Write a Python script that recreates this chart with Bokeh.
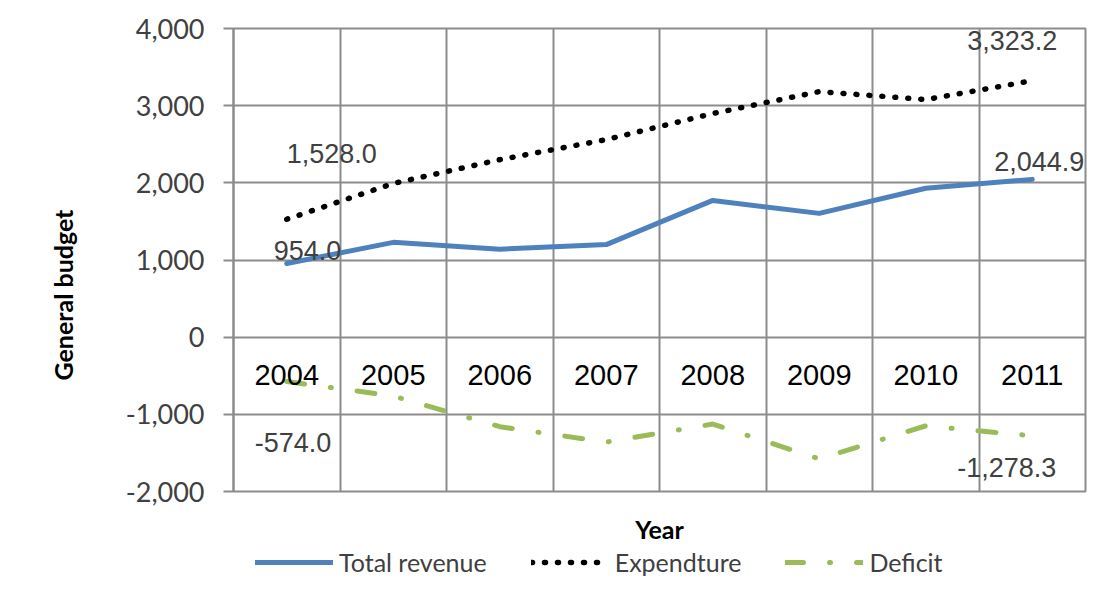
from bokeh.plotting import figure
from bokeh.layouts import column
from bokeh.models import (ColumnDataSource, FixedTicker, NumeralTickFormatter,
                          Legend, LegendItem, Range1d, Title)
from bokeh.core.properties import value
from bokeh.embed import file_html
from bokeh.resources import INLINE

# ---------------- data ----------------
years = ["2004", "2005", "2006", "2007", "2008", "2009", "2010", "2011"]
total_revenue = [954.0, 1229.0, 1140.0, 1200.0, 1772.0, 1604.0, 1930.0, 2044.9]
expenditure = [1528.0, 1992.0, 2300.0, 2560.0, 2898.0, 3182.0, 3079.0, 3323.2]
deficit = [-574.0, -763.0, -1160.0, -1360.0, -1126.0, -1578.0, -1149.0, -1278.3]
y_ticks = [-2000, -1000, 0, 1000, 2000, 3000, 4000]
series_names = ["Total revenue", "Expendture", "Deficit"]

# ---------------- styles ----------------
GRID = "#8c8c8c"
BLUE = "#4F81BD"
GREEN = "#9BBB59"
CAL = "Lato"
ARIAL = "Liberation Sans"
STYLES = [dict(line_color=BLUE, line_width=5, line_join="round", line_cap="round"),
          dict(line_color="black", line_width=5.5, line_dash="1 12",
               line_cap="round", line_join="round"),
          dict(line_color=GREEN, line_width=5, line_dash="18 26 1 26",
               line_cap="round", line_join="round")]

n = len(years)
xs = [i + 0.5 for i in range(n)]

p = figure(width=1100, height=546,
           x_range=Range1d(0, n), y_range=Range1d(y_ticks[0], y_ticks[-1]),
           output_backend="svg", toolbar_location=None,
           min_border_left=232, min_border_right=15, min_border_top=28,
           min_border_bottom=54, background_fill_color="white",
           border_fill_color="white")

p.outline_line_color = GRID
p.outline_line_width = 2

# grids
p.xgrid.ticker = FixedTicker(ticks=list(range(n + 1)))
p.xgrid.grid_line_color = GRID
p.xgrid.grid_line_width = 2
p.ygrid.ticker = FixedTicker(ticks=y_ticks)
p.ygrid.grid_line_color = GRID
p.ygrid.grid_line_width = 2

# y axis
ya = p.yaxis[0]
ya.ticker = FixedTicker(ticks=y_ticks)
ya.formatter = NumeralTickFormatter(format="0,0")
ya.major_label_text_font = CAL
ya.major_label_text_font_size = "27px"
ya.major_label_text_color = "#404040"
ya.axis_line_color = GRID
ya.axis_line_width = 2
ya.major_tick_line_color = GRID
ya.major_tick_line_width = 2
ya.major_tick_out = 10
ya.major_tick_in = 0
ya.minor_tick_line_color = None
ya.major_label_standoff = 19

# y axis title, placed a little below the frame centre as in the original
p.add_layout(Title(text="General budget", align="left", offset=111,
                   vertical_align="bottom", standoff=90,
                   text_font=CAL, text_font_style="bold",
                   text_font_size="25px", text_color="black"), "left")

# x axis (only title)
xa = p.xaxis[0]
xa.ticker = FixedTicker(ticks=[])
xa.axis_line_color = None
xa.major_tick_line_color = None
xa.minor_tick_line_color = None
xa.major_label_text_font_size = "0px"
xa.axis_label = "Year"
xa.axis_label_text_font = CAL
xa.axis_label_text_font_style = "bold"
xa.axis_label_text_font_size = "25px"
xa.axis_label_text_color = "black"
xa.axis_label_standoff = 22

# series
for vals, st in zip([total_revenue, expenditure, deficit], STYLES):
    p.line(xs, vals, **st)

# category labels next to the zero line
p.text(x=xs, y=[0] * n, text=years, text_align="center",
       text_baseline="middle", y_offset=38,
       text_font=value(ARIAL), text_font_size="29px", text_color="black")

# data labels (first and last of each series)
lbl_src = ColumnDataSource(dict(
    x=[xs[0], xs[0], xs[-1], xs[-1], xs[0], xs[-1]],
    y=[total_revenue[0], expenditure[0], total_revenue[-1], expenditure[-1],
       deficit[0], deficit[-1]],
    text=["{:,.1f}".format(v) for v in
          [total_revenue[0], expenditure[0], total_revenue[-1],
           expenditure[-1], deficit[0], deficit[-1]]],
    xo=[-13, 0, -38, -65, -32, -75],
    yo=[-13, -66, -18, -40, 61, 32],
))
p.text(x="x", y="y", text="text", source=lbl_src, x_offset="xo", y_offset="yo",
       text_align="left", text_baseline="middle",
       text_font=value(ARIAL), text_font_size="27px", text_color="#404040")

# ---------------- legend strip below the chart ----------------
p2 = figure(width=1100, height=64, x_range=Range1d(0, 1), y_range=Range1d(0, 1),
            output_backend="svg", toolbar_location=None,
            x_axis_location=None, y_axis_location=None,
            min_border_left=0, min_border_right=0, min_border_top=0,
            min_border_bottom=0, background_fill_color="white",
            border_fill_color="white")
p2.outline_line_color = None
p2.grid.visible = False
items = []
for name, st in zip(series_names, STYLES):
    r = p2.line([float("nan")], [float("nan")], **st)
    items.append(LegendItem(label=name, renderers=[r]))
legend = Legend(items=items, orientation="horizontal", location=(22, 33),
                glyph_width=78, glyph_height=20, label_standoff=6,
                spacing=44, padding=4, margin=0,
                label_text_font=CAL, label_text_font_size="25px",
                label_text_color="#404040", border_line_color=None,
                background_fill_alpha=0)
p2.add_layout(legend, "center")

layout = column(p, p2, spacing=0)
open("out.html", "w").write(file_html(layout, INLINE))
